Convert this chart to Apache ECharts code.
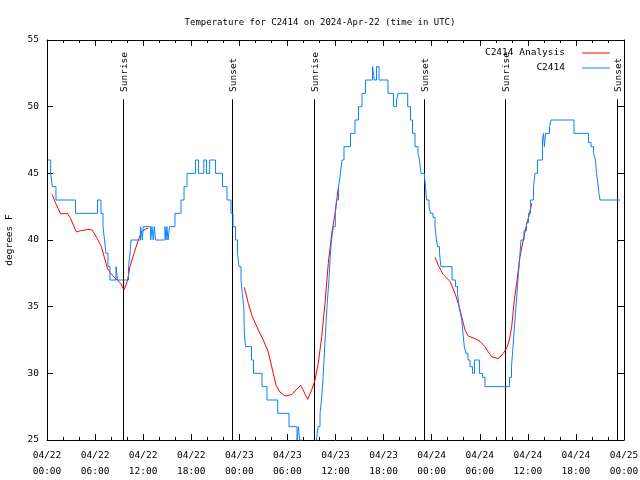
<!DOCTYPE html>
<html>
<head>
<meta charset="utf-8">
<script src="https://cdn.jsdelivr.net/npm/echarts@6/dist/echarts.min.js"></script>
<style>html,body{margin:0;padding:0;background:#fff}#c{width:640px;height:480px}</style>
</head>
<body>
<div id="c"></div>
<script>
// x values are hours since 2024-04-22 00:00 UTC
const xTickLabels = ['04/22\n00:00','04/22\n06:00','04/22\n12:00','04/22\n18:00','04/23\n00:00','04/23\n06:00','04/23\n12:00','04/23\n18:00','04/24\n00:00','04/24\n06:00','04/24\n12:00','04/24\n18:00','04/25\n00:00'];

// C2414 observations (value holds from the given hour until the next one)
const obsHours = [0.12,0.46,0.66,1.12,3.56,6.30,6.74,6.99,7.18,7.36,7.61,7.86,8.61,8.80,10.17,10.36,10.48,11.67,11.90,12.00,12.94,13.10,13.26,13.39,13.54,14.72,14.85,14.97,15.10,15.29,15.97,16.72,17.10,17.47,18.53,18.90,19.57,19.90,20.30,21.03,21.90,22.46,22.96,23.21,23.52,23.77,23.96,24.21,24.37,24.56,24.59,24.63,24.77,25.52,25.77,26.83,27.45,28.79,30.20,31.20,31.38,31.51,31.76,31.94,33.19,33.63,33.82,34.07,34.25,34.38,34.48,34.57,34.65,34.75,34.84,34.94,35.06,35.19,35.31,35.50,35.73,35.98,36.13,36.38,36.62,36.81,37.06,37.87,38.43,38.87,39.31,39.75,40.62,40.84,41.12,41.43,42.55,43.24,43.61,43.80,45.01,45.36,45.61,45.92,46.29,46.48,46.67,46.79,47.11,47.23,47.36,47.67,47.86,48.17,48.42,48.60,48.73,48.98,49.16,50.54,50.98,51.23,51.41,51.60,51.75,51.91,52.07,52.28,52.53,52.78,53.09,53.34,53.96,54.34,54.65,57.71,57.96,58.15,58.33,58.52,58.71,58.83,58.96,59.15,59.52,59.83,60.08,60.33,60.71,60.90,61.20,61.83,61.95,62.07,62.20,62.70,62.89,65.76,67.57,67.88,68.20,68.44,68.57,68.69,68.88,69.01,71.50];
const obsTemps = [46,45,44,43,42,43,42,41,40,39,38,37,38,37,38,39,40,41,40,41,40,41,40,41,40,41,40,41,40,41,42,43,44,45,46,45,46,45,46,45,44,43,42,41,40,39,38,37,36,35,34,33,32,31,30,29,28,27,26,25,26,25,24,23,24,25,26,27,28,29,30,31,32,33,34,35,36,37,38.5,40,41,42,43,44,45,46,47,48,49,50,51,52,53,52,53,52,51,50,50.5,51,50,49,48,47,46.5,46,45,45,44.7,44,43,42.5,42,41.7,41,40,39.5,39,38,37,36.5,36,35,34.5,34,33,32,31.5,31,30.5,30,31,30,29.7,29,29.7,30.5,32,33.5,35,36.5,37.5,38.5,40,40.7,41.3,42,43,44,45,46,47.5,48,47,48,48.5,49,48,47.3,47,46.5,46,45,44.5,43.5,43,43];

// C2414 Analysis, three windows
const anaHours1 = [0.66,1.09,1.71,2.53,2.96,3.66,4.21,5.24,5.65,6.28,6.78,7.11,7.52,7.95,8.57,9.20,9.61,10.02,10.36,10.86,11.39,11.79,12.23,12.64];
const anaTemps1 = [43.4,42.75,41.95,42,41.6,40.6,40.7,40.8,40.75,40.1,39.5,38.8,37.9,37.5,37.1,36.75,36.25,36.9,38,39,40,40.6,40.8,40.9];
const anaHours2 = [24.62,25.12,25.62,26.37,26.99,27.61,28.04,28.58,29.07,29.70,30.53,31.07,31.66,32.07,32.53,33.03,33.44,33.85,34.28,34.69,35.10,35.53,35.94,36.35];
const anaTemps2 = [36.45,35.25,34.25,33.25,32.5,31.6,30.5,29.1,28.6,28.3,28.4,28.75,29.1,28.6,28.05,28.75,29.5,30.75,32.75,35.25,38.25,40.5,42,43.9];
const anaHours3 = [48.42,48.83,49.45,50.29,50.91,51.32,51.75,52.16,52.57,53.41,54.03,54.65,55.07,55.49,56.32,56.94,57.36,57.69,57.99,58.31,58.61,59.02,59.43,59.86,60.18,60.48];
const anaTemps3 = [38.7,38.1,37.4,36.9,36,35.25,34.25,33.25,32.8,32.6,32.4,32,31.6,31.25,31.1,31.5,31.9,32.5,33.5,35.5,36.75,38.75,40,41.2,41.9,42.75];

// Sunrise / sunset markers
const sunHours = [9.52,23.12,33.36,47.08,57.2,71.09];
const sunLabels = ['Sunrise','Sunset','Sunrise','Sunset','Sunrise','Sunset'];

const FONT = '"DejaVu Sans Mono", monospace';
const zip = (a,b) => a.map((v,i)=>[v,b[i]]);

const chart = echarts.init(document.getElementById('c'), null, {renderer:'canvas'});
const axisBase = {
  min:0, max:72, interval:6, type:'value',
  axisLine:{show:true, onZero:false, lineStyle:{color:'#000', width:1}},
  axisTick:{show:true, inside:true, length:6, lineStyle:{color:'#000'}},
  minorTick:{show:true, splitNumber:3, length:3, lineStyle:{color:'#000'}},
  splitLine:{show:false}
};
const yBase = {
  type:'value', min:25, max:55, interval:5,
  axisLine:{show:true, onZero:false, lineStyle:{color:'#000', width:1}},
  axisTick:{show:true, inside:true, length:6, lineStyle:{color:'#000'}},
  splitLine:{show:false}
};
chart.setOption({
  animation:false,
  backgroundColor:'#fff',
  title:{text:'Temperature for C2414 on 2024-Apr-22 (time in UTC)', left:'center', top:13,
    textStyle:{fontFamily:FONT, fontSize:9, fontWeight:'normal', color:'#000'}},
  grid:{left:47, right:16, top:40, bottom:40, containLabel:false, outerBoundsMode:'none'},
  legend:[
    {data:['C2414 Analysis'], right:25, top:43, align:'right', icon:'rect', itemWidth:28, itemHeight:1,
      textStyle:{fontFamily:FONT, fontSize:9.5, color:'#000', padding:[0,12,0,0]}, selectedMode:false},
    {data:['C2414'], right:25, top:58, align:'right', icon:'rect', itemWidth:28, itemHeight:1,
      textStyle:{fontFamily:FONT, fontSize:9.5, color:'#000', padding:[0,12,0,0]}, selectedMode:false}
  ],
  xAxis:[
    Object.assign({}, axisBase, {position:'bottom',
      axisLabel:{show:true, margin:8, fontFamily:FONT, fontSize:9.5, color:'#000', lineHeight:16,
        formatter:(v)=>xTickLabels[Math.round(v/6)]}}),
    Object.assign({}, axisBase, {position:'top', axisLabel:{show:false}})
  ],
  yAxis:[
    Object.assign({}, yBase, {position:'left', name:'degrees F', nameLocation:'middle', nameGap:32, nameRotate:90,
      nameTextStyle:{fontFamily:FONT, fontSize:9.5, color:'#000'},
      axisLabel:{show:true, margin:8, fontFamily:FONT, fontSize:9.5, color:'#000'}}),
    Object.assign({}, yBase, {position:'right', axisLabel:{show:false}})
  ],
  series:[
    {type:'custom', xAxisIndex:0, yAxisIndex:0, silent:true, z:1,
      data: sunHours.map(h=>[h,25]),
      renderItem:function(params, api){
        const h = api.value(0);
        const b = api.coord([h,25]);
        const t = api.coord([h,50.55]);
        const l = api.coord([h,51.1]);
        const x = Math.round(b[0]) + 0.5;
        return {type:'group', children:[
          {type:'line', shape:{x1:x, y1:b[1], x2:x, y2:t[1]}, style:{stroke:'#000', lineWidth:1}},
          {type:'text', x:x+1, y:l[1], rotation:Math.PI/2,
            style:{text:sunLabels[params.dataIndex], align:'left', verticalAlign:'middle', font:'9.5px ' + FONT, fill:'#000'}}
        ]};
      }},
    {name:'C2414 Analysis', type:'line', data:zip(anaHours1, anaTemps1), showSymbol:false, symbol:'none',
      lineStyle:{color:'#ff0000', width:1}, itemStyle:{color:'#ff0000'}, z:2},
    {name:'C2414 Analysis', type:'line', data:zip(anaHours2, anaTemps2), showSymbol:false, symbol:'none',
      lineStyle:{color:'#ff0000', width:1}, itemStyle:{color:'#ff0000'}, z:2},
    {name:'C2414 Analysis', type:'line', data:zip(anaHours3, anaTemps3), showSymbol:false, symbol:'none',
      lineStyle:{color:'#ff0000', width:1}, itemStyle:{color:'#ff0000'}, z:2},
    {name:'C2414', type:'line', step:'end', data:zip(obsHours, obsTemps), showSymbol:false, symbol:'none',
      lineStyle:{color:'#0a80ff', width:1}, itemStyle:{color:'#0a80ff'}, z:3}
  ]
});
</script>
</body>
</html>
